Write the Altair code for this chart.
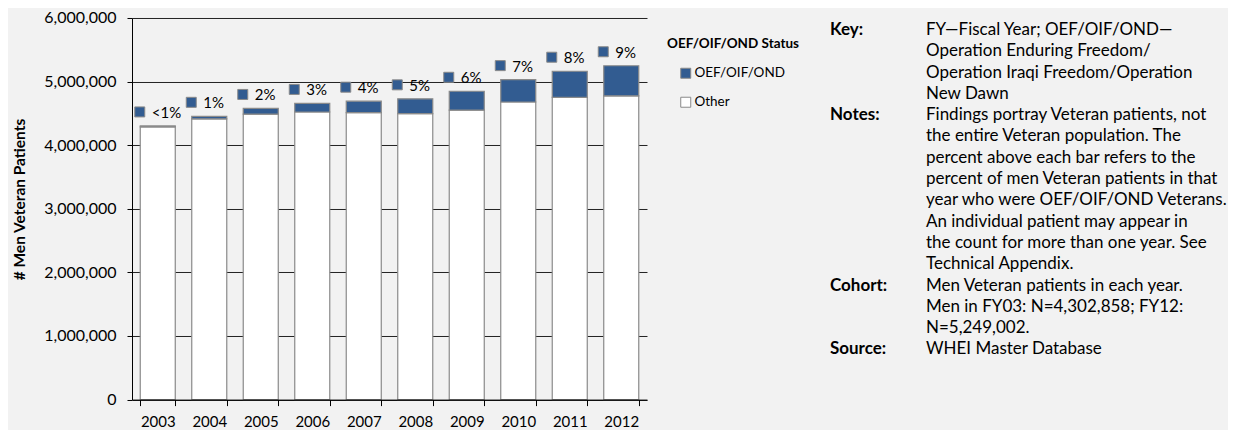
import altair as alt
import pandas as pd

# ---- data ----
years = ["2003", "2004", "2005", "2006", "2007", "2008", "2009", "2010", "2011", "2012"]
oef = [15000, 40000, 88000, 135000, 180000, 232000, 295000, 352000, 410000, 472000]
other = [4287858, 4414000, 4490000, 4522000, 4512000, 4497000, 4553000, 4679000, 4753000, 4777002]
pct_labels = ["<1%", "1%", "2%", "3%", "4%", "5%", "6%", "7%", "8%", "9%"]
statuses = ["OEF/OIF/OND", "Other"]
y_ticks = [0, 1000000, 2000000, 3000000, 4000000, 5000000, 6000000]

key_lines = ["FY\u2014Fiscal Year; OEF/OIF/OND\u2014", "Operation Enduring Freedom/",
             "Operation Iraqi Freedom/Operation", "New Dawn"]
notes_lines = ["Findings portray Veteran patients, not", "the entire Veteran population. The",
               "percent above each bar refers to the", "percent of men Veteran patients in that",
               "year who were OEF/OIF/OND Veterans.", "An individual patient may appear in",
               "the count for more than one year. See", "Technical Appendix."]
cohort_lines = ["Men Veteran patients in each year.", "Men in FY03: N=4,302,858; FY12:",
                "N=5,249,002."]
source_lines = ["WHEI Master Database"]

BLUE = "#325c91"
GRAY = "#8a8a8a"
FONT = "Lato"

long_rows = []
for y, a, b in zip(years, oef, other):
    long_rows.append({"year": y, "status": "Other", "count": b, "ord": 0})
    long_rows.append({"year": y, "status": "OEF/OIF/OND", "count": a, "ord": 1})
long_df = pd.DataFrame(long_rows)
wide_df = pd.DataFrame({"year": years, "total": [a + b for a, b in zip(oef, other)],
                        "label": pct_labels})

x_axis = alt.Axis(title=None, labelAngle=0, tickBand="extent", tickSize=6, tickColor="#000",
                  domainColor="#000", labelFontSize=15, labelFont=FONT, labelColor="#000",
                  labelPadding=9, zindex=1)
y_axis = alt.Axis(title="# Men Veteran Patients", values=y_ticks,
                  labelExpr="format(datum.value, ',')",
                  tickSize=5, tickColor="#000", domainColor="#000", gridColor="#222",
                  gridWidth=1, grid=True, labelFontSize=16, labelFont=FONT, labelColor="#000",
                  labelPadding=11, titleFont=FONT, titleFontSize=15.5, titleFontWeight="bold",
                  titleColor="#000", titleX=-113, titleY=181, titleAlign="center",
                  titleBaseline="middle", titleAngle=270)

xs = alt.X("year:N", scale=alt.Scale(paddingInner=0.32, paddingOuter=0.16), axis=x_axis)
ys_scale = alt.Scale(domain=[0, 6000000], nice=False)

bars = alt.Chart(long_df).mark_bar(stroke=GRAY, strokeWidth=1.2).encode(
    x=xs,
    y=alt.Y("count:Q", stack="zero", scale=ys_scale, axis=y_axis),
    color=alt.Color("status:N", scale=alt.Scale(domain=statuses, range=[BLUE, "#ffffff"]),
                    legend=alt.Legend(title="OEF/OIF/OND Status", orient="none", legendX=535,
                                      legendY=19, symbolType="square", symbolSize=100,
                                      symbolStrokeColor=GRAY, symbolStrokeWidth=1,
                                      symbolOffset=12, labelOffset=2, rowPadding=14,
                                      titlePadding=16, titleFont=FONT, titleFontSize=13.5,
                                      titleFontWeight="bold", titleColor="#000",
                                      labelFont=FONT, labelFontSize=13.5, labelColor="#000")),
    order=alt.Order("ord:Q"),
)

squares = alt.Chart(wide_df).mark_square(size=100, color=BLUE, stroke=GRAY, strokeWidth=1,
                                         opacity=1, xOffset=-18, yOffset=-14).encode(
    x=xs, y=alt.Y("total:Q", scale=ys_scale, axis=y_axis))

pct = alt.Chart(wide_df).mark_text(align="left", baseline="middle", dx=-6, dy=-13, fontSize=15,
                                   font=FONT, color="#000").encode(
    x=xs, y=alt.Y("total:Q", scale=ys_scale, axis=y_axis), text="label:N")

layers = [bars, squares, pct]
LH = 21.3
FS = 17
blocks = [("Key:", key_lines, 0), ("Notes:", notes_lines, 4),
          ("Cohort:", cohort_lines, 12), ("Source:", source_lines, 15)]
for lab, lines, k in blocks:
    ytop = 4 + LH * k
    d = pd.DataFrame({"lab": [lab], "body": ["\n".join(lines)]})
    layers.append(alt.Chart(d).mark_text(align="left", baseline="top", fontSize=FS, font=FONT,
                                         fontWeight="bold", color="#000").encode(
        x=alt.value(698), y=alt.value(ytop), text="lab:N"))
    layers.append(alt.Chart(d).mark_text(align="left", baseline="top", fontSize=FS, font=FONT,
                                         color="#000", lineBreak="\n", lineHeight=LH).encode(
        x=alt.value(794), y=alt.value(ytop), text="body:N"))

chart = alt.layer(*layers).properties(
    width=515, height=381.6,
    autosize=alt.AutoSizeParams(type="none"),
    padding={"left": 124, "top": 10, "right": 581, "bottom": 30},
    background="#f2f2f2",
).configure_view(stroke=None, fill=None)

chart.save("out.html", embed_options={"renderer": "svg", "actions": False})
